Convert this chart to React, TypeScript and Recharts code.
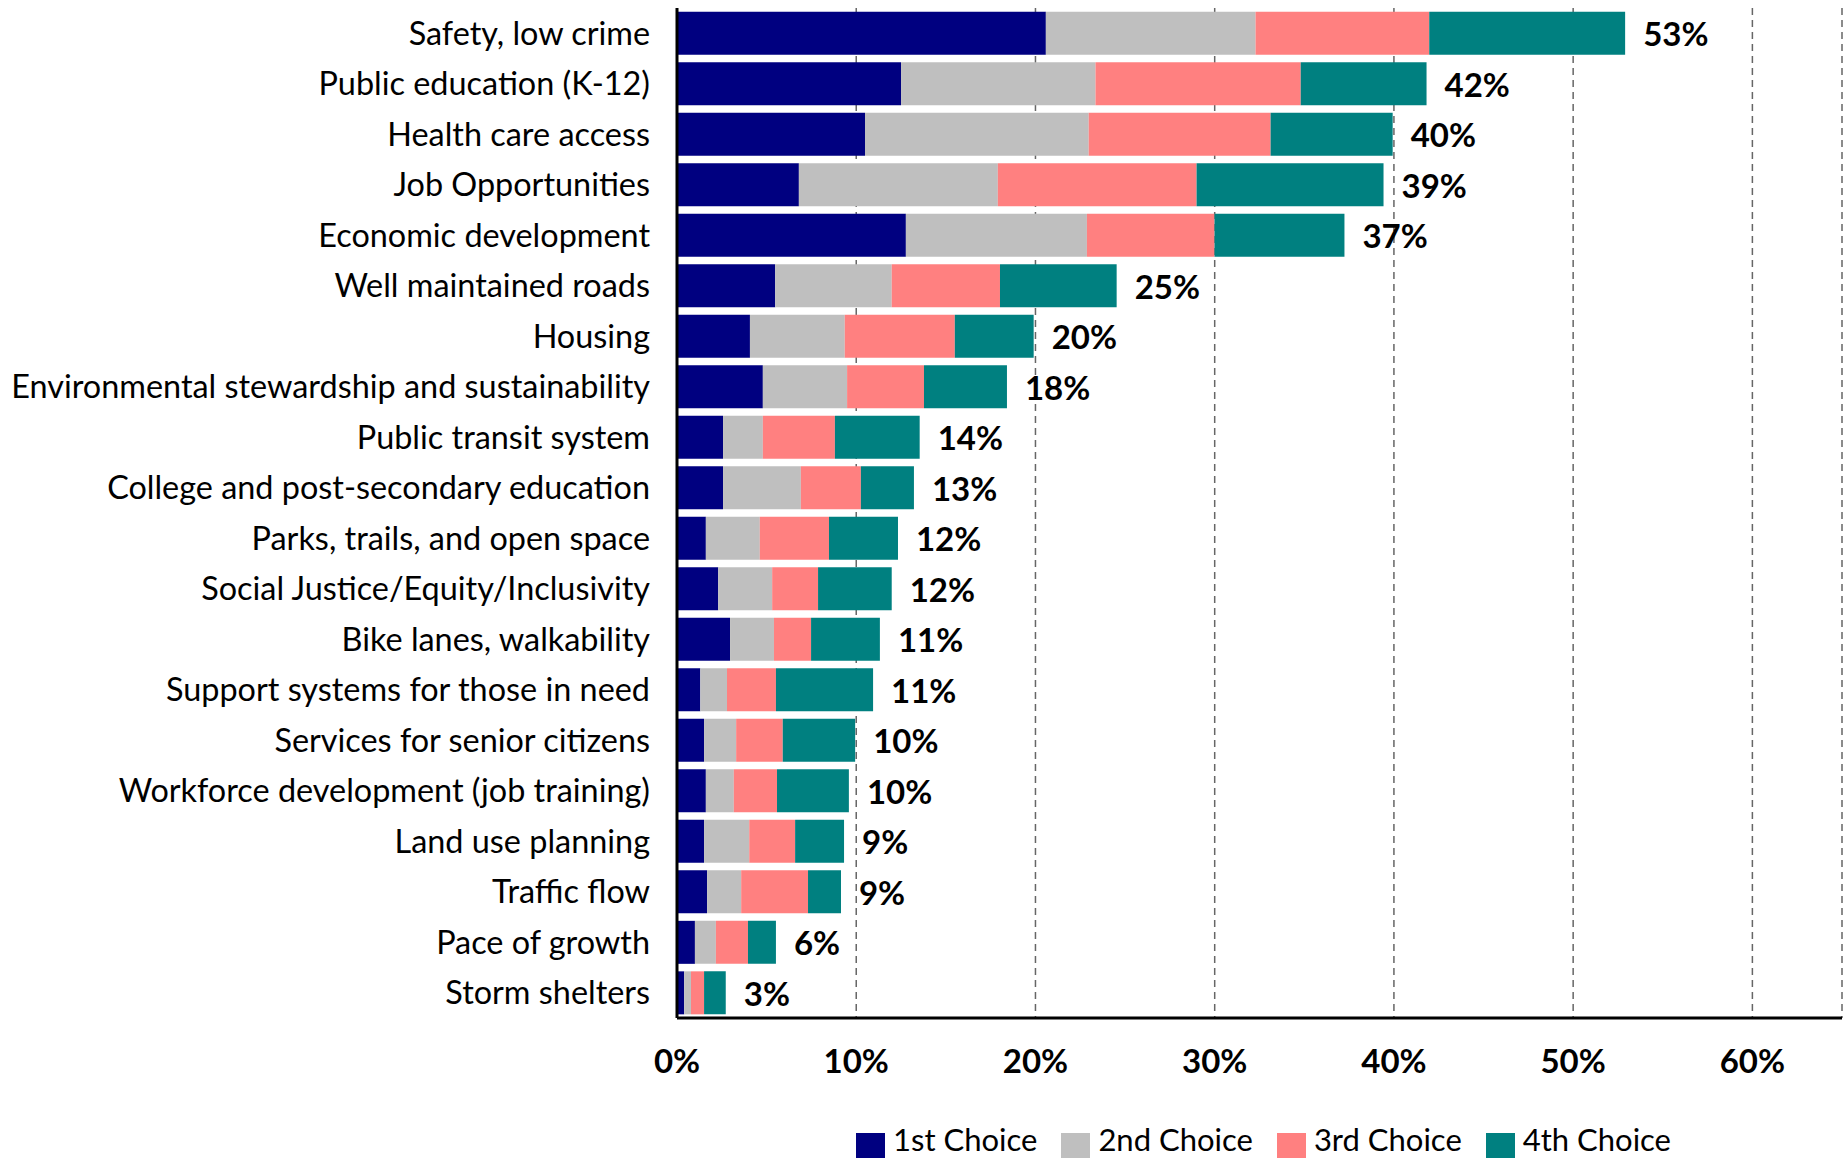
import React from 'react';
import {
  BarChart,
  Bar,
  XAxis,
  YAxis,
  CartesianGrid,
  Legend,
  LabelList,
} from 'recharts';

const categories = [
  'Safety, low crime',
  'Public education (K-12)',
  'Health care access',
  'Job Opportunities',
  'Economic development',
  'Well maintained roads',
  'Housing',
  'Environmental stewardship and sustainability',
  'Public transit system',
  'College and post-secondary education',
  'Parks, trails, and open space',
  'Social Justice/Equity/Inclusivity',
  'Bike lanes, walkability',
  'Support systems for those in need',
  'Services for senior citizens',
  'Workforce development (job training)',
  'Land use planning',
  'Traffic flow',
  'Pace of growth',
  'Storm shelters',
];

// percent of respondents per choice rank
const firstChoice = [20.58, 12.5, 10.49, 6.8, 12.77, 5.48, 4.07, 4.79, 2.57, 2.57, 1.61, 2.3, 2.96, 1.3, 1.51, 1.61, 1.51, 1.68, 1.0, 0.4];
const secondChoice = [11.7, 10.85, 12.48, 11.1, 10.1, 6.5, 5.29, 4.7, 2.22, 4.34, 3.01, 3.01, 2.45, 1.49, 1.79, 1.56, 2.52, 1.9, 1.17, 0.38];
const thirdChoice = [9.69, 11.45, 10.15, 11.09, 7.12, 6.04, 6.14, 4.29, 4.02, 3.35, 3.86, 2.56, 2.07, 2.73, 2.6, 2.41, 2.56, 3.73, 1.79, 0.73];
const fourthChoice = [10.93, 7.02, 6.81, 10.43, 7.25, 6.51, 4.4, 4.63, 4.73, 2.96, 3.85, 4.11, 3.84, 5.42, 4.04, 4.01, 2.73, 1.84, 1.56, 1.21];
const totalLabels = ['53%', '42%', '40%', '39%', '37%', '25%', '20%', '18%', '14%', '13%', '12%', '12%', '11%', '11%', '10%', '10%', '9%', '9%', '6%', '3%'];

const xTicks = [0, 10, 20, 30, 40, 50, 60];

const seriesKeys = ['first', 'second', 'third', 'fourth'];
const seriesNames = ['1st Choice', '2nd Choice', '3rd Choice', '4th Choice'];
const seriesColors = ['#000080', '#BFBFBF', '#FF8080', '#008080'];

const data = categories.map((name, i) => ({
  name,
  first: firstChoice[i],
  second: secondChoice[i],
  third: thirdChoice[i],
  fourth: fourthChoice[i],
  total: totalLabels[i],
}));

const FONT = 'Lato, "Open Sans", sans-serif';

function TotalLabel(props: any) {
  const x = Number(props.x);
  const y = Number(props.y);
  const w = Number(props.width);
  const h = Number(props.height);
  return (
    <text
      x={x + w + 18}
      y={y + h / 2}
      dominantBaseline="central"
      fontFamily={FONT}
      fontWeight="bold"
      fontSize={33}
      fill="#000"
    >
      {props.value}
    </text>
  );
}

function ChoiceLegend() {
  return (
    <div
      style={{
        height: 40,
        display: 'flex',
        alignItems: 'flex-end',
        paddingLeft: 856,
        fontFamily: FONT,
        fontSize: 31,
        color: '#000',
      }}
    >
      {seriesNames.map((n, i) => (
        <div key={n} style={{ display: 'flex', alignItems: 'flex-end', marginRight: 24 }}>
          <span
            style={{
              display: 'inline-block',
              width: 29,
              height: 25,
              background: seriesColors[i],
              marginRight: 8,
            }}
          />
          <span style={{ lineHeight: '26px', marginBottom: 6 }}>{n}</span>
        </div>
      ))}
    </div>
  );
}

export default function App() {
  return (
    <div style={{ position: 'absolute', left: 0, top: 0, background: '#fff' }}>
      <BarChart
        width={1847}
        height={1158}
        data={data}
        layout="vertical"
        margin={{ top: 8, right: 5, left: 0, bottom: 0 }}
        barCategoryGap="7.6%"
      >
        <CartesianGrid horizontal={false} strokeDasharray="7 5" stroke="#666" strokeWidth={1.5} />
        <XAxis
          type="number"
          domain={[0, 65]}
          ticks={xTicks}
          tickFormatter={(v: number) => `${v}%`}
          height={100}
          tickSize={0}
          tickMargin={32}
          axisLine={{ stroke: '#000', strokeWidth: 3 }}
          tick={{ fill: '#000', fontSize: 33, fontWeight: 'bold', fontFamily: FONT }}
        />
        <XAxis
          xAxisId="top"
          orientation="top"
          type="number"
          domain={[0, 65]}
          height={0}
          tick={false}
          tickLine={false}
          axisLine={{ stroke: '#000', strokeWidth: 2.5 }}
        />
        <YAxis
          type="category"
          dataKey="name"
          width={677}
          interval={0}
          tickSize={0}
          tickMargin={27}
          axisLine={{ stroke: '#000', strokeWidth: 3 }}
          tick={{ fill: '#000', fontSize: 32.4, fontFamily: FONT }}
        />
        <YAxis
          yAxisId="right"
          orientation="right"
          type="category"
          dataKey="name"
          width={0}
          tick={false}
          tickLine={false}
          axisLine={{ stroke: '#000', strokeWidth: 2.5 }}
        />
        <Legend verticalAlign="bottom" content={() => <ChoiceLegend />} />
        {seriesKeys.map((k, i) => (
          <Bar
            key={k}
            dataKey={k}
            name={seriesNames[i]}
            stackId="a"
            fill={seriesColors[i]}
            isAnimationActive={false}
          >
            {i === 3 && <LabelList dataKey="total" content={TotalLabel} />}
          </Bar>
        ))}
      </BarChart>
    </div>
  );
}
